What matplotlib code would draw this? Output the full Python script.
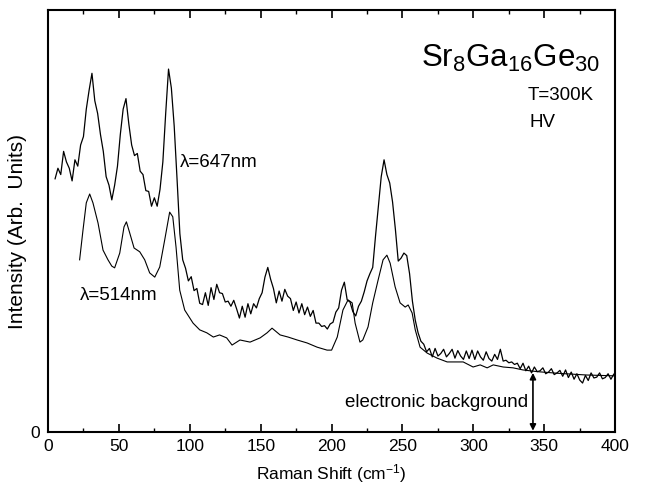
import numpy as np
import matplotlib
matplotlib.use("Agg")
import matplotlib.pyplot as plt

plt.rcParams['font.family'] = ['Liberation Sans', 'DejaVu Sans']
plt.rcParams['mathtext.fontset'] = 'custom'
plt.rcParams['mathtext.rm'] = 'Liberation Sans'
plt.rcParams['mathtext.it'] = 'Liberation Sans'

# lambda = 647 nm spectrum (noisy), sampled every 2 cm^-1 from 5
y647 = [
    60.0, 62.5, 61.0, 66.5, 64.0, 62.5, 59.5, 64.5, 63.0, 68.0,
    70.0, 76.5, 81.0, 85.0, 78.5, 75.5, 70.5, 66.5, 60.5, 58.5,
    55.0, 58.5, 63.0, 70.5, 76.5, 79.0, 73.0, 68.0, 65.5, 66.0,
    61.8, 61.0, 57.2, 57.0, 53.5, 55.5, 53.5, 57.5, 64.0, 75.5,
    86.0, 81.5, 72.5, 60.0, 47.0, 40.8, 38.8, 35.8, 36.8, 33.5,
    34.0, 30.5, 30.2, 33.0, 30.0, 34.2, 31.4, 35.0, 33.0, 32.8,
    30.8, 31.0, 29.8, 31.2, 29.2, 27.0, 29.8, 27.2, 30.4, 28.0,
    30.4, 29.4, 31.6, 33.0, 36.7, 39.0, 36.2, 34.0, 30.6, 33.4,
    31.0, 33.8, 32.2, 31.6, 28.8, 30.8, 28.2, 30.4, 27.8, 29.6,
    27.4, 28.8, 25.8, 25.8, 25.0, 25.2, 24.4, 25.6, 26.0, 28.4,
    29.4, 33.6, 35.5, 31.3, 30.8, 28.5, 27.5, 29.8, 31.0, 33.2,
    35.8, 37.5, 39.0, 46.5, 53.5, 60.5, 64.5, 61.0, 59.0, 54.5,
    48.0, 40.5, 41.2, 42.4, 41.8, 37.5, 31.0, 26.5, 23.5, 21.5,
    20.8, 19.0, 19.8, 17.8, 19.8, 18.0, 18.6, 19.6, 17.8, 18.6,
    19.6, 17.5, 19.3, 18.0, 17.2, 19.2, 17.4, 19.4, 17.2, 19.2,
    17.8, 17.0, 19.0, 17.4, 16.8, 18.4, 17.2, 19.6, 16.8, 17.0,
    16.4, 16.6, 16.0, 16.3, 15.0, 16.3, 14.5, 15.6, 14.0, 15.4,
    14.3, 14.5, 15.2, 13.8, 14.2, 15.0, 13.6, 14.0, 14.6, 13.2,
    14.7, 12.9, 14.2, 12.5, 13.8, 12.3, 11.6, 13.4, 12.2, 14.0,
    12.8, 13.0, 14.0, 12.6, 12.9, 13.8, 12.5, 13.7,
]
x647 = 5 + 2 * np.arange(len(y647))

# lambda = 514 nm spectrum (smooth)
x514 = [22.3, 24.7, 27.0, 29.4, 31.7, 35.3, 38.8, 42.3, 45.0, 47.0,
        50.6, 53.6, 55.3, 57.6, 60.7, 64.7, 68.2, 71.7, 75.3, 78.8,
        82.3, 85.8, 88.0, 90.3, 92.9, 96.4, 102.3, 107, 112, 116.6,
        121, 126, 129.8, 135.4, 142.5, 149.6, 154.5, 158, 163.7, 169.3,
        175.7, 182.7, 189.8, 196.8, 200, 204, 208, 211.6, 214.5, 216.6,
        220, 222, 225.7, 229, 232.8, 236.3, 239, 241.3, 244.8, 248.3,
        251.9, 254, 256.8, 259, 262.4, 267.4, 274.4, 281.5, 292.8, 299.8,
        304.8, 309.7, 314, 321, 328, 335, 345, 360, 380, 400]
y514 = [40.8, 47.9, 54.3, 56.4, 54.3, 49.5, 43.1, 40.8, 39.3, 38.9,
        42.4, 48.6, 49.8, 47.2, 43.6, 42.7, 40.8, 37.7, 36.7, 39.1,
        45.5, 52.1, 51.0, 43.8, 33.6, 28.9, 25.8, 24.2, 23.5, 22.5,
        23.0, 22.3, 20.6, 21.8, 21.3, 22.3, 23.5, 24.6, 23.0, 22.5,
        21.8, 21.1, 20.1, 19.4, 19.4, 22.5, 28.9, 31.3, 30.6, 25.8,
        21.3, 21.8, 24.9, 30.6, 36.0, 40.8, 41.9, 40.0, 34.4, 30.6,
        29.6, 30.1, 28.2, 24.2, 20.1, 18.7, 17.5, 16.6, 16.6, 15.4,
        15.9, 15.2, 15.9, 15.4, 15.2, 14.7, 14.3, 13.9, 13.5, 13.3]

xticks = [0, 50, 100, 150, 200, 250, 300, 350, 400]
arrow_x = 342
arrow_top = 14.0

fig = plt.figure(figsize=(6.46, 4.95), dpi=100)
ax = fig.add_axes([0.0743, 0.1273, 0.878, 0.8525])

ax.plot(x647, y647, color='black', lw=0.9)
ax.plot(x514, y514, color='black', lw=0.8)

ax.set_xlim(0, 400)
ax.set_ylim(0, 100)
ax.set_xticks(xticks)
ax.set_xticks(np.arange(25, 400, 50), minor=True)
ax.set_yticks([0])
ax.tick_params(axis='x', which='major', direction='in', length=6, width=1.2,
               top=True, labelsize=12.5, pad=5)
ax.tick_params(axis='x', which='minor', direction='in', length=3, width=1.0, top=True)
ax.tick_params(axis='y', length=0, labelsize=12.5, pad=6)
for s in ax.spines.values():
    s.set_linewidth(1.5)

ax.set_xlabel('Raman Shift (cm$^{-1}$)', fontsize=12.5, labelpad=6)
ax.set_ylabel('Intensity (Arb.  Units)', fontsize=15)
ax.yaxis.set_label_coords(-0.037, 0.474)

ax.text(389.5, 86.5, 'Sr$_8$Ga$_{16}$Ge$_{30}$', fontsize=22.5, ha='right', va='baseline')
ax.text(338.6, 78.7, 'T=300K', fontsize=13.5, va='baseline')
ax.text(339.5, 72.3, 'HV', fontsize=13.5, va='baseline')
ax.text(93.0, 62.8, 'λ=647nm', fontsize=13.5, va='baseline')
ax.text(22.6, 31.3, 'λ=514nm', fontsize=13.5, va='baseline')
ax.text(338.5, 5.9, 'electronic background', fontsize=13.5, ha='right', va='baseline')

ax.annotate('', xy=(arrow_x, 0.3), xytext=(arrow_x, arrow_top),
            arrowprops=dict(arrowstyle='<|-|>', color='black', lw=1.2,
                            mutation_scale=9, shrinkA=0, shrinkB=0))

fig.savefig('out.png', dpi=100)
